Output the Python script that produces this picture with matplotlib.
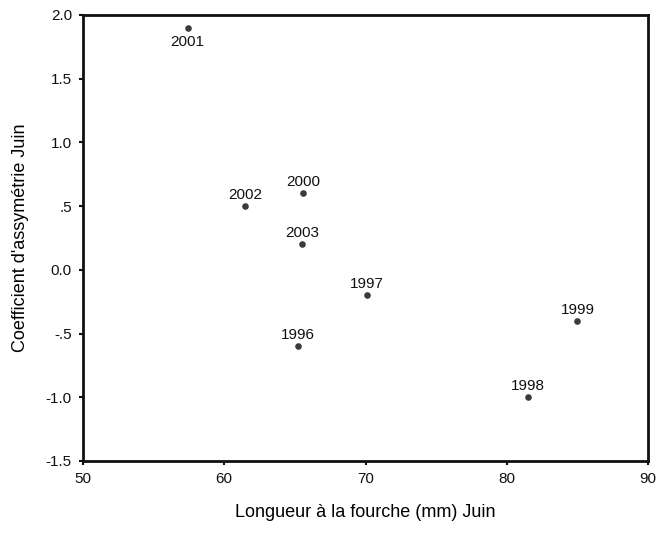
import matplotlib.pyplot as plt
import numpy as np

plt.rcParams['font.family'] = ['Liberation Sans', 'DejaVu Sans']

years = ["1996", "1997", "1998", "1999", "2000", "2001", "2002", "2003"]
longueur = [65.2, 70.1, 81.5, 85.0, 65.6, 57.4, 61.5, 65.5]
coeff = [-0.6, -0.2, -1.0, -0.4, 0.6, 1.9, 0.5, 0.2]

yticks = [-1.5, -1.0, -0.5, 0.0, 0.5, 1.0, 1.5, 2.0]
ytick_labels = ["-1.5", "-1.0", "-.5", "0.0", ".5", "1.0", "1.5", "2.0"]
xticks = [50, 60, 70, 80, 90]

fig = plt.figure(figsize=(6.57, 5.41), dpi=100)
ax = fig.add_axes([83 / 657, 1 - 461 / 541, (648 - 83) / 657, (461 - 15) / 541])

ax.scatter(longueur, coeff, s=14, color="#3a3a3a", zorder=3)

for yr, x, y in zip(years, longueur, coeff):
    if yr == "2001":
        ax.annotate(yr, (x, y), xytext=(0, -5), textcoords="offset points",
                    ha="center", va="top", fontsize=11, color="#111111")
    else:
        ax.annotate(yr, (x, y), xytext=(0, 3), textcoords="offset points",
                    ha="center", va="bottom", fontsize=11, color="#111111")

ax.set_xlim(50, 90)
ax.set_ylim(-1.5, 2.0)
ax.set_xticks(xticks)
ax.set_yticks(yticks)
ax.set_yticklabels(ytick_labels)
ax.tick_params(direction="out", length=3, width=1.5, labelsize=11, colors="#111111", pad=5)

for sp in ax.spines.values():
    sp.set_linewidth(2)
    sp.set_color("#111111")

ax.set_xlabel("Longueur à la fourche (mm) Juin", fontsize=13, labelpad=13)
ax.set_ylabel("Coefficient d'assymétrie Juin", fontsize=13, labelpad=12)

plt.savefig("out.png", dpi=100)
